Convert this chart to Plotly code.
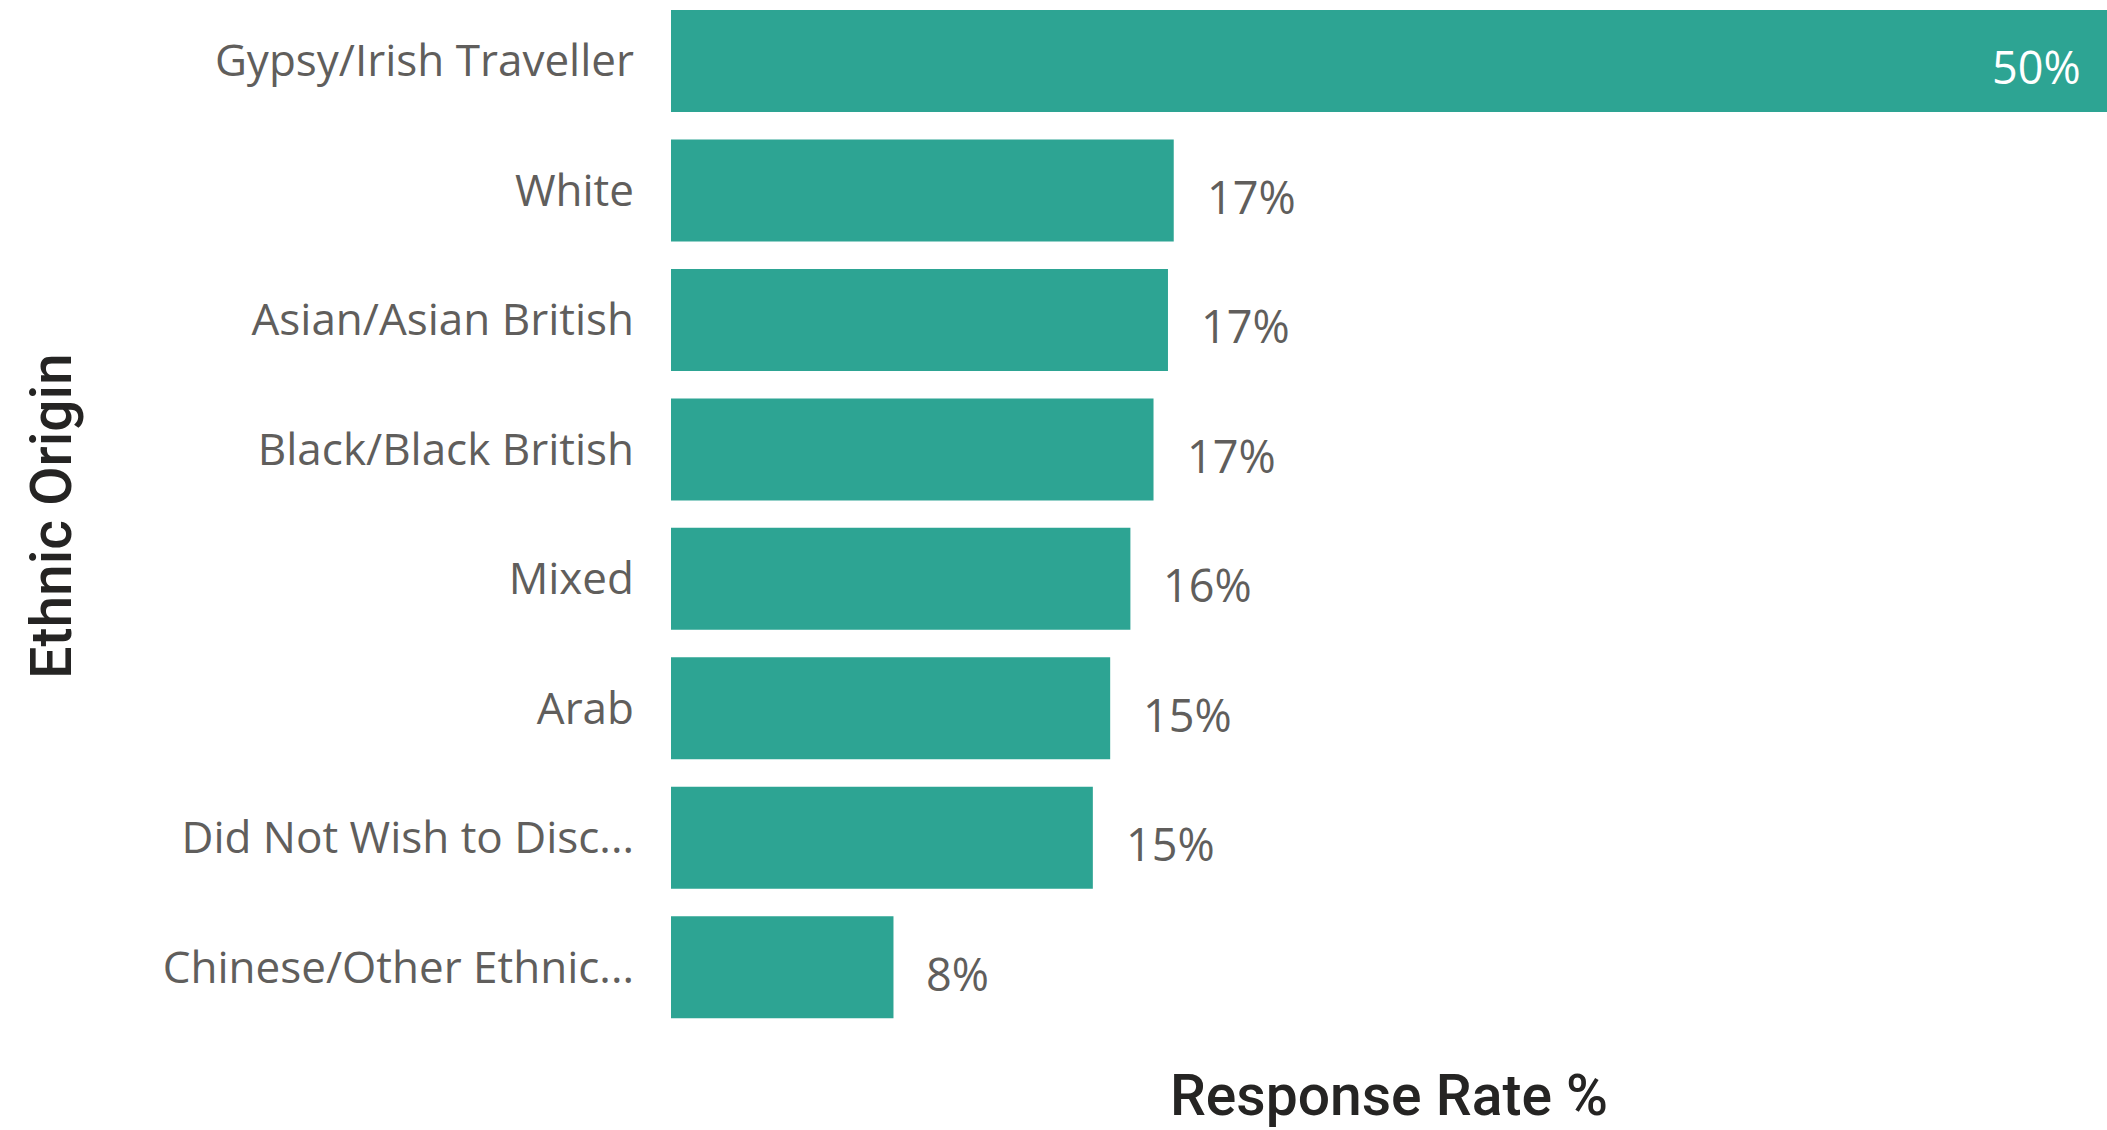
import plotly.graph_objects as go

# Response rate by ethnic origin (percent), top to bottom
categories = [
    "Gypsy/Irish Traveller",
    "White",
    "Asian/Asian British",
    "Black/Black British",
    "Mixed",
    "Arab",
    "Did Not Wish to Disc...",
    "Chinese/Other Ethnic...",
]
response_rate = [49.7, 17.4, 17.2, 16.7, 15.9, 15.2, 14.6, 7.7]

bar_color = "#2DA493"
label_color = "#605E5C"
title_color = "#252423"

fig = go.Figure(
    go.Bar(
        x=response_rate,
        y=categories,
        orientation="h",
        marker=dict(color=bar_color, line=dict(width=0)),
        hoverinfo="skip",
    )
)

# value labels: white inside the widest bar, grey beside the others
max_val = max(response_rate)
annotations = []
for cat, val in zip(categories, response_rate):
    inside = val == max_val
    annotations.append(
        dict(
            x=val,
            y=cat,
            xref="x",
            yref="y",
            text=f"{round(val):d}%",
            showarrow=False,
            xanchor="right" if inside else "left",
            xshift=-24 if inside else 31,
            yshift=-6,
            font=dict(family="Open Sans", size=45,
                      color="#FFFFFF" if inside else label_color),
        )
    )

fig.update_layout(
    width=2107,
    height=1130,
    margin=dict(l=671, r=0, t=0, b=98),
    paper_bgcolor="white",
    plot_bgcolor="white",
    bargap=0.212,
    showlegend=False,
    annotations=annotations,
    xaxis=dict(
        range=[0, max_val],
        showgrid=False,
        zeroline=False,
        showline=False,
        showticklabels=False,
        ticks="",
        title=dict(
            text="Response Rate %",
            font=dict(family="Roboto", size=57, weight=500, color=title_color),
            standoff=43,
        ),
        automargin=False,
    ),
    yaxis=dict(
        range=[7.5, -0.471],
        showgrid=False,
        zeroline=False,
        showline=False,
        ticks="",
        ticklabelstandoff=36,
        tickfont=dict(family="Open Sans", size=44, color=label_color),
        title=dict(
            text="Ethnic Origin",
            font=dict(family="Roboto", size=57, weight=500, color=title_color),
            standoff=72,
        ),
        automargin=False,
    ),
)

fig.write_html("out.html")
